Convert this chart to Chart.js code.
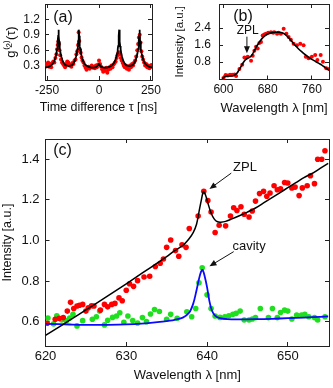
<!DOCTYPE html>
<html>
<head>
<meta charset="utf-8">
<script src="https://cdn.jsdelivr.net/npm/chart.js@4.4.0/dist/chart.umd.min.js"></script>
<style>
    body { margin: 0; background: #fff; }
    #wrap { position: relative; width: 333px; height: 388px; }
    canvas { position: absolute; }
</style>
</head>
<body>
<div id="wrap">
    <canvas id="chartA" width="165" height="120" style="left:0px;top:0px"></canvas>
    <canvas id="chartB" width="168" height="120" style="left:165px;top:0px"></canvas>
    <canvas id="chartC" width="333" height="253" style="left:0px;top:135px"></canvas>
</div>
<script>
// ---- panel (a): g2 measurement ----
var tauA = [-255, -250, -245, -240, -235, -230, -225, -220, -215, -210, -205, -202, -199, -196, -193, -190, -187, -183, -178, -173,
    -168, -163, -158, -153, -148, -143, -138, -133, -128, -123, -118, -113, -109, -105, -101, -98, -95, -92, -88, -84,
    -80, -75, -70, -65, -60, -55, -50, -45, -40, -35, -30, -25, -20, -15, -10, -5, 0, 5, 10, 15,
    20, 25, 30, 35, 40, 45, 50, 55, 60, 65, 70, 75, 80, 85, 89, 93, 97, 101, 105, 109,
    114, 119, 124, 129, 134, 139, 144, 149, 154, 159, 164, 169, 174, 179, 184, 188, 192, 196, 200, 204,
    208, 212, 217, 222, 227, 232, 237, 242, 247, 252];
var g2A = [0.33, 0.30, 0.36, 0.28, 0.33, 0.27, 0.35, 0.38, 0.36, 0.45, 0.52, 0.62, 0.70, 0.77, 0.72, 0.60, 0.50, 0.42, 0.36, 0.33,
    0.30, 0.27, 0.33, 0.38, 0.36, 0.30, 0.32, 0.28, 0.35, 0.33, 0.40, 0.42, 0.52, 0.58, 0.70, 0.95, 0.78, 0.62, 0.55, 0.46,
    0.40, 0.36, 0.30, 0.26, 0.22, 0.25, 0.28, 0.24, 0.27, 0.30, 0.26, 0.28, 0.25, 0.30, 0.27, 0.32, 0.40, 0.33, 0.28, 0.23,
    0.18, 0.24, 0.20, 0.26, 0.16, 0.22, 0.27, 0.24, 0.30, 0.27, 0.32, 0.35, 0.38, 0.45, 0.50, 0.55, 0.56, 0.52, 0.45, 0.40,
    0.35, 0.30, 0.27, 0.30, 0.24, 0.28, 0.22, 0.30, 0.27, 0.33, 0.30, 0.36, 0.40, 0.48, 0.60, 0.72, 0.85, 0.90, 0.75, 0.58,
    0.48, 0.42, 0.36, 0.30, 0.33, 0.27, 0.30, 0.25, 0.28, 0.31];
var tauFitA = [-258, -240, -228, -220, -214, -209, -205, -202, -200, -198, -196.5, -195, -193.5, -192, -190, -188, -185, -181, -176, -170,
    -162, -146, -130, -122, -116, -111, -107, -104, -102, -100, -98.5, -97, -95.5, -94, -92, -90, -87, -83, -78, -72,
    -64, -52, -38, -25, -15, -8, -4, -2, 0, 2, 4, 8, 15, 25, 38, 52, 64, 72, 78, 83,
    87, 90, 92, 94, 95.5, 97, 98.5, 100, 102, 104, 107, 111, 116, 122, 130, 146, 162, 170, 176, 181,
    185, 188, 190, 192, 193.5, 195, 196.5, 198, 200, 202, 205, 209, 214, 220, 228, 240, 255];
var g2FitA = [0.26, 0.28, 0.31, 0.35, 0.40, 0.47, 0.54, 0.62, 0.68, 0.77, 0.88, 1.00, 0.88, 0.77, 0.68, 0.62, 0.54, 0.47, 0.40, 0.35,
    0.31, 0.29, 0.31, 0.35, 0.40, 0.47, 0.54, 0.62, 0.68, 0.77, 0.88, 1.00, 0.88, 0.77, 0.68, 0.62, 0.54, 0.47, 0.40, 0.35,
    0.31, 0.28, 0.26, 0.26, 0.27, 0.29, 0.31, 0.32, 0.33, 0.32, 0.31, 0.29, 0.27, 0.26, 0.26, 0.28, 0.31, 0.35, 0.40, 0.47,
    0.54, 0.62, 0.68, 0.77, 0.88, 1.00, 0.88, 0.77, 0.68, 0.62, 0.54, 0.47, 0.40, 0.35, 0.31, 0.29, 0.31, 0.35, 0.40, 0.47,
    0.54, 0.62, 0.68, 0.77, 0.88, 1.00, 0.88, 0.77, 0.68, 0.62, 0.54, 0.47, 0.40, 0.35, 0.31, 0.28, 0.26];
var tauTicksA = [-250, 0, 250];
var g2TicksA = [0.3, 0.6, 0.9, 1.2];

// ---- panel (b): full spectrum ----
var lamB = [600, 604, 608, 612, 616, 620, 623, 629, 634, 638, 641, 644, 650, 653, 656, 659, 662, 665, 668, 671,
    674, 677, 681, 686, 690, 692, 697, 700, 704, 709, 714, 718, 722, 727, 733, 739, 745, 749, 754, 760,
    766, 770, 776, 780, 786, 791];
var intB = [0.05, 0.19, 0.17, 0.20, 0.20, 0.22, 0.15, 0.47, 0.67, 1.02, 1.00, 1.05, 0.87, 1.10, 1.33, 1.52, 1.44, 1.70, 1.75, 2.06,
    2.10, 2.14, 2.19, 2.21, 2.18, 2.21, 2.14, 2.18, 2.14, 2.37, 2.14, 1.98, 1.85, 1.67, 1.60, 1.67, 1.60, 1.05, 0.98, 1.05,
    1.13, 0.90, 1.13, 0.82, 0.51, 0.47];
var lamFitB = [598, 602, 607, 613, 619, 624, 628, 632, 636, 640, 644, 648, 652, 656, 660, 665, 670, 676, 682, 688,
    694, 700, 706, 712, 718, 724, 730, 736, 742, 748, 754, 760, 766, 772, 778, 784, 791];
var intFitB = [0.02, 0.10, 0.14, 0.15, 0.17, 0.26, 0.42, 0.60, 0.78, 0.92, 0.99, 1.04, 1.15, 1.34, 1.54, 1.74, 1.92, 2.06, 2.15, 2.19,
    2.21, 2.21, 2.18, 2.10, 1.95, 1.77, 1.58, 1.42, 1.28, 1.15, 1.03, 0.93, 0.84, 0.75, 0.66, 0.55, 0.42];
var lamTicksB = [600, 680, 760];
var intTicksB = [0.8, 1.6, 2.4];

// ---- panel (c): ZPL and cavity ----
var lamZpl = [620.2, 621.2, 621.7, 622.2, 622.7, 623.1, 623.5, 623.9, 624.2, 624.6, 625.0, 625.3, 625.7, 626.0, 626.8, 627.3, 627.7, 628.2, 628.6, 629.1,
    629.5, 630.0, 630.4, 630.9, 631.4, 632.2, 632.9, 633.6, 634.2, 634.6, 635.0, 635.5, 636.1, 636.5, 636.9, 637.4, 637.8, 638.9, 639.6, 640.1,
    640.5, 641.0, 641.5, 642.3, 642.9, 643.3, 643.7, 644.2, 644.6, 645.2, 645.6, 646.0, 646.5, 647.0, 647.4, 647.8, 648.3, 648.7, 649.1, 649.6,
    650.0, 650.5, 650.9, 651.4, 651.8, 652.4, 652.8, 653.3, 653.7, 654.2, 654.6];
var intZpl = [0.592, 0.612, 0.617, 0.620, 0.652, 0.695, 0.665, 0.677, 0.681, 0.685, 0.652, 0.668, 0.678, 0.677, 0.657, 0.685, 0.673, 0.685, 0.690, 0.717,
    0.703, 0.755, 0.787, 0.774, 0.802, 0.820, 0.824, 0.872, 0.888, 0.909, 0.966, 1.002, 0.950, 0.922, 0.979, 0.966, 1.059, 1.120, 1.242, 1.197,
    1.140, 1.039, 1.075, 1.072, 1.120, 1.161, 1.148, 1.166, 1.129, 1.116, 1.145, 1.194, 1.231, 1.242, 1.218, 1.234, 1.270, 1.250, 1.254, 1.286,
    1.283, 1.259, 1.263, 1.221, 1.259, 1.270, 1.319, 1.280, 1.400, 1.400, 1.442];
var lamCav = [620.3, 621.0, 621.4, 622.0, 622.6, 623.0, 623.4, 623.9, 624.6, 625.8, 626.3, 626.7, 627.3, 627.7, 628.3, 628.8, 629.2, 629.7, 630.2, 630.8,
    631.4, 632.0, 632.5, 633.0, 633.5, 634.1, 635.0, 635.5, 636.3, 637.5, 638.1, 638.6, 639.0, 639.4, 640.0, 640.5, 641.0, 641.6, 642.2, 642.7,
    643.2, 643.6, 644.1, 644.6, 645.2, 645.6, 646.0, 646.6, 647.6, 648.1, 648.7, 649.1, 649.6, 650.0, 650.5, 651.1, 651.7, 652.1, 652.6, 653.3,
    653.7, 654.6];
var intCav = [0.618, 0.589, 0.629, 0.608, 0.605, 0.618, 0.636, 0.579, 0.605, 0.612, 0.624, 0.652, 0.584, 0.607, 0.621, 0.628, 0.644, 0.597, 0.628, 0.606,
    0.593, 0.620, 0.600, 0.638, 0.660, 0.650, 0.612, 0.636, 0.617, 0.649, 0.624, 0.665, 0.792, 0.865, 0.732, 0.665, 0.628, 0.621, 0.624, 0.629,
    0.636, 0.641, 0.652, 0.608, 0.608, 0.613, 0.620, 0.665, 0.620, 0.665, 0.620, 0.645, 0.657, 0.652, 0.613, 0.633, 0.633, 0.636, 0.624, 0.620,
    0.608, 0.624];
var lamFitZpl = [620, 622, 624, 626, 628, 630, 632, 634, 635, 636, 637, 637.8, 638.3, 638.7, 639.0, 639.3, 639.55, 639.8, 640.1, 640.5,
    640.9, 641.3, 641.7, 642.3, 643, 644, 645, 646, 647, 648, 649, 650, 651, 652, 653, 654, 655];
var intFitZpl = [0.532, 0.582, 0.632, 0.683, 0.734, 0.786, 0.840, 0.893, 0.920, 0.950, 0.975, 1.010, 1.040, 1.080, 1.140, 1.200, 1.240, 1.225, 1.185, 1.135,
    1.105, 1.092, 1.090, 1.094, 1.105, 1.122, 1.140, 1.160, 1.185, 1.210, 1.235, 1.260, 1.285, 1.310, 1.330, 1.355, 1.380];
var lamFitCav = [620, 623, 626, 629, 631, 633, 634.5, 636, 637, 637.8, 638.3, 638.7, 639.0, 639.25, 639.45, 639.7, 640.0, 640.3, 640.6, 641.0,
    641.6, 642.5, 644, 646, 648, 650, 652, 654, 655];
var intFitCav = [0.589, 0.586, 0.584, 0.585, 0.588, 0.594, 0.600, 0.609, 0.620, 0.645, 0.690, 0.755, 0.810, 0.845, 0.855, 0.825, 0.770, 0.700, 0.655, 0.630,
    0.617, 0.612, 0.611, 0.612, 0.614, 0.617, 0.620, 0.624, 0.626];
var lamTicksC = [620, 630, 640, 650];
var intTicksC = [0.6, 0.8, 1.0, 1.2, 1.4];

Chart.defaults.font.family = "'Liberation Sans', Arial, Helvetica, sans-serif";
Chart.defaults.color = "#111";

function pts(xs, ys) {
    return xs.map(function (x, i) {
        return { x: x, y: ys[i] };
    });
}

function grid() {
    return { drawOnChartArea: false, tickLength: -4, color: "#222", lineWidth: 1 };
}

function border() {
    return { color: "#222", width: 1 };
}

// four framed axes with inward ticks
function frame(o) {
    var setX = function (s) {
        s.ticks = o.xTicks.map(function (v) { return { value: v }; });
    };
    var setY = function (s) {
        s.ticks = o.yTicks.map(function (v) { return { value: v }; });
    };
    return {
        x: {
            type: "linear", position: "bottom", min: o.xMin, max: o.xMax,
            grid: grid(), border: border(), afterBuildTicks: setX,
            ticks: { font: { size: o.tickSize }, padding: o.xPad, maxRotation: 0, callback: function (v) { return String(v); } },
            title: { display: o.xTitle !== "", text: o.xTitle, font: { size: 13 }, padding: { top: 0, bottom: o.xTitlePad } },
            afterFit: function (s) { s.height = o.xh; s.paddingLeft = 0; s.paddingRight = 0; },
        },
        x2: {
            type: "linear", position: "top", min: o.xMin, max: o.xMax,
            grid: grid(), border: border(), afterBuildTicks: setX,
            ticks: { display: false },
            afterFit: function (s) { s.height = 0; s.paddingLeft = 0; s.paddingRight = 0; },
        },
        y: {
            type: "linear", position: "left", min: o.yMin, max: o.yMax,
            grid: grid(), border: border(), afterBuildTicks: setY,
            ticks: { font: { size: o.tickSize }, padding: o.yPad, callback: function (v) { return v.toFixed(1); } },
            title: { display: true, text: o.yTitle, font: { size: o.yTitleSize }, padding: { top: o.yTitlePad, bottom: 0 } },
            afterFit: function (s) { s.width = o.yw; s.paddingTop = 0; s.paddingBottom = 0; },
        },
        y2: {
            type: "linear", position: "right", min: o.yMin, max: o.yMax,
            grid: grid(), border: border(), afterBuildTicks: setY,
            ticks: { display: false },
            afterFit: function (s) { s.width = 0; s.paddingTop = 0; s.paddingBottom = 0; },
        },
    };
}

function drawArrow(ctx, x1, y1, x2, y2) {
    var ang = Math.atan2(y2 - y1, x2 - x1);
    ctx.beginPath();
    ctx.moveTo(x1, y1);
    ctx.lineTo(x2 - 5 * Math.cos(ang), y2 - 5 * Math.sin(ang));
    ctx.stroke();
    ctx.beginPath();
    ctx.moveTo(x2, y2);
    ctx.lineTo(x2 - 7 * Math.cos(ang) + 3 * Math.sin(ang), y2 - 7 * Math.sin(ang) - 3 * Math.cos(ang));
    ctx.lineTo(x2 - 7 * Math.cos(ang) - 3 * Math.sin(ang), y2 - 7 * Math.sin(ang) + 3 * Math.cos(ang));
    ctx.closePath();
    ctx.fill();
}

function baseOptions(scales, pad) {
    return {
        responsive: false,
        animation: false,
        events: [],
        layout: { padding: pad },
        plugins: { legend: { display: false }, tooltip: { enabled: false } },
        scales: scales,
    };
}

var notesA = {
    id: "notesA",
    afterDraw: function (chart) {
        var ctx = chart.ctx, a = chart.chartArea;
        ctx.save();
        ctx.fillStyle = "#111";
        ctx.font = "16px 'Liberation Sans', Arial";
        ctx.textAlign = "center";
        ctx.textBaseline = "middle";
        ctx.fillText("(a)", a.left + 18, a.top + 14);
        // axis title is wider than the plot, so it is drawn here instead of by the scale
        ctx.font = "12.5px 'Liberation Sans', Arial";
        ctx.fillText("Time difference \u03c4 [ns]", (a.left + a.right) / 2, a.bottom + 28);
        ctx.restore();
    },
};

var notesB = {
    id: "notesB",
    afterDraw: function (chart) {
        var ctx = chart.ctx, a = chart.chartArea, sx = chart.scales.x, sy = chart.scales.y;
        ctx.save();
        ctx.fillStyle = "#111";
        ctx.strokeStyle = "#111";
        ctx.lineWidth = 1;
        ctx.font = "16px 'Liberation Sans', Arial";
        ctx.textAlign = "center";
        ctx.textBaseline = "middle";
        ctx.fillText("(b)", a.left + 24, a.top + 13);
        ctx.font = "12px 'Liberation Sans', Arial";
        ctx.fillText("ZPL", sx.getPixelForValue(644), sy.getPixelForValue(2.27));
        drawArrow(ctx, sx.getPixelForValue(642.5), sy.getPixelForValue(2.0), sx.getPixelForValue(642.5), sy.getPixelForValue(1.22));
        ctx.restore();
    },
};

var notesC = {
    id: "notesC",
    afterDraw: function (chart) {
        var ctx = chart.ctx, a = chart.chartArea, sx = chart.scales.x, sy = chart.scales.y;
        ctx.save();
        ctx.fillStyle = "#111";
        ctx.strokeStyle = "#111";
        ctx.lineWidth = 1;
        ctx.font = "16px 'Liberation Sans', Arial";
        ctx.textAlign = "center";
        ctx.textBaseline = "middle";
        ctx.fillText("(c)", a.left + 17, a.top + 12);
        ctx.font = "13px 'Liberation Sans', Arial";
        ctx.fillText("ZPL", sx.getPixelForValue(644.7), sy.getPixelForValue(1.36));
        drawArrow(ctx, sx.getPixelForValue(643.0), sy.getPixelForValue(1.332), sx.getPixelForValue(640.3), sy.getPixelForValue(1.254));
        ctx.fillText("cavity", sx.getPixelForValue(645.2), sy.getPixelForValue(0.969));
        drawArrow(ctx, sx.getPixelForValue(643.3), sy.getPixelForValue(0.945), sx.getPixelForValue(640.3), sy.getPixelForValue(0.873));
        ctx.restore();
    },
};

new Chart(document.getElementById("chartA").getContext("2d"), {
    type: "scatter",
    data: {
        datasets: [
            {
                data: pts(tauFitA, g2FitA), showLine: true, pointRadius: 0,
                borderColor: "#000", borderWidth: 1.8, tension: 0, order: 0,
            },
            {
                data: pts(tauA, g2A), pointRadius: 2, pointBorderWidth: 0,
                backgroundColor: "#ff0000", borderColor: "#ff0000", order: 1,
            },
        ],
    },
    options: baseOptions(frame({
        xMin: -260, xMax: 255, yMin: 0.02, yMax: 1.5,
        xTicks: tauTicksA, yTicks: g2TicksA, tickSize: 12,
        xTitle: "", yTitle: "g\u207d\u00b2\u207e(\u03c4)", yTitleSize: 13,
        xh: 40, yw: 45, xPad: 7, yPad: 9, xTitlePad: 4, yTitlePad: 4,
    }), { left: 0, right: 13, top: 1, bottom: 0 }),
    plugins: [notesA],
});

new Chart(document.getElementById("chartB").getContext("2d"), {
    type: "scatter",
    data: {
        datasets: [
            {
                data: pts(lamFitB, intFitB), showLine: true, pointRadius: 0,
                borderColor: "#000", borderWidth: 1.6, tension: 0.3, order: 0,
            },
            {
                data: pts(lamB, intB), pointRadius: 2, pointBorderWidth: 0,
                backgroundColor: "#ff0000", borderColor: "#ff0000", order: 1,
            },
        ],
    },
    options: baseOptions(frame({
        xMin: 592, xMax: 791, yMin: -0.02, yMax: 3.54,
        xTicks: lamTicksB, yTicks: intTicksB, tickSize: 12,
        xTitle: "Wavelength \u03bb [nm]", yTitle: "Intensity [a.u.]", yTitleSize: 11.5,
        xh: 40.5, yw: 54, xPad: 7, yPad: 12, xTitlePad: 4, yTitlePad: 8,
    }), { left: 0, right: 2, top: 2.5, bottom: 0 }),
    plugins: [notesB],
});

new Chart(document.getElementById("chartC").getContext("2d"), {
    type: "scatter",
    data: {
        datasets: [
            {
                data: pts(lamFitZpl, intFitZpl), showLine: true, pointRadius: 0,
                borderColor: "#000", borderWidth: 1.5, tension: 0.3, order: 0,
            },
            {
                data: pts(lamFitCav, intFitCav), showLine: true, pointRadius: 0,
                borderColor: "#0a0aff", borderWidth: 1.8, tension: 0.3, order: 0,
            },
            {
                data: pts(lamZpl, intZpl), pointRadius: 2.8, pointBorderWidth: 0,
                backgroundColor: "#ff0000", borderColor: "#ff0000", order: 1,
            },
            {
                data: pts(lamCav, intCav), pointRadius: 2.8, pointBorderWidth: 0,
                backgroundColor: "#1ee01e", borderColor: "#1ee01e", order: 1,
            },
        ],
    },
    options: baseOptions(frame({
        xMin: 620, xMax: 655.1, yMin: 0.48, yMax: 1.5,
        xTicks: lamTicksC, yTicks: intTicksC, tickSize: 13,
        xTitle: "Wavelength \u03bb [nm]", yTitle: "Intensity [a.u.]", yTitleSize: 12.5,
        xh: 42, yw: 45.5, xPad: 7, yPad: 10, xTitlePad: 5, yTitlePad: 0.5,
    }), { left: 0, right: 1, top: 1.7, bottom: 0 }),
    plugins: [notesC],
});
</script>
</body>
</html>
